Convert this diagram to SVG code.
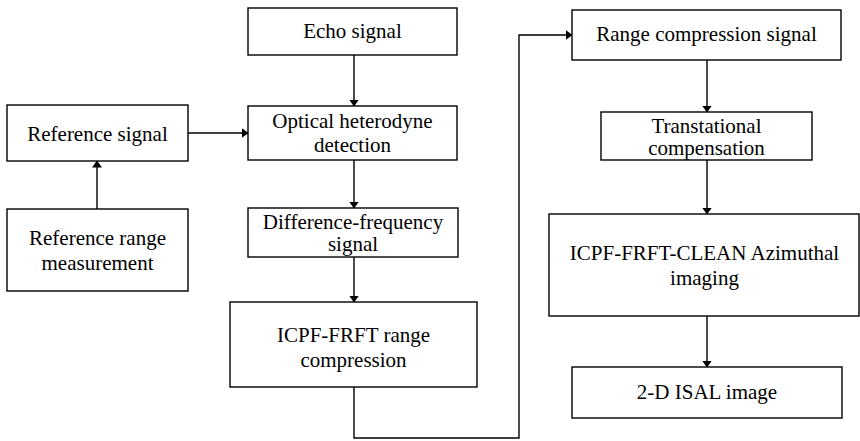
<svg xmlns="http://www.w3.org/2000/svg" width="860" height="441" viewBox="0 0 860 441">
<defs>
<style>
.box{fill:#fff;stroke:#000;stroke-width:1.4}
.t{font-family:"Liberation Serif","Times New Roman",serif;font-size:21px;fill:#000;text-anchor:middle}
.c{fill:none;stroke:#000;stroke-width:1.4}
</style>
<marker id="ah" markerUnits="userSpaceOnUse" markerWidth="7" markerHeight="10" refX="6.5" refY="5" orient="auto">
<path d="M0,0 L7,5 L0,10 z" fill="#000"/>
</marker>
</defs>
<rect width="860" height="441" fill="#fff"/>
<g id="connectors">
<line class="c" x1="354" y1="55" x2="354" y2="106" marker-end="url(#ah)"/>
<line class="c" x1="188" y1="133" x2="248" y2="133" marker-end="url(#ah)"/>
<line class="c" x1="97" y1="209" x2="97" y2="161" marker-end="url(#ah)"/>
<line class="c" x1="354" y1="160" x2="354" y2="208" marker-end="url(#ah)"/>
<line class="c" x1="354" y1="257" x2="354" y2="302" marker-end="url(#ah)"/>
<polyline class="c" points="354,387 354,438 519,438 519,35 572,35" marker-end="url(#ah)"/>
<line class="c" x1="707" y1="60" x2="707" y2="112" marker-end="url(#ah)"/>
<line class="c" x1="707" y1="160" x2="707" y2="214" marker-end="url(#ah)"/>
<line class="c" x1="707" y1="316" x2="707" y2="367" marker-end="url(#ah)"/>
</g>
<g id="echo">
<rect class="box" x="248" y="8" width="209" height="47"/>
<text class="t" x="352.5" y="38">Echo signal</text>
</g>
<g id="optical">
<rect class="box" x="248" y="106" width="209" height="54"/>
<text class="t" x="352.5" y="128">Optical heterodyne</text>
<text class="t" x="352.5" y="152">detection</text>
</g>
<g id="refsignal">
<rect class="box" x="7" y="105" width="181" height="56"/>
<text class="t" x="97.5" y="141">Reference signal</text>
</g>
<g id="refrange">
<rect class="box" x="7" y="209" width="181" height="82"/>
<text class="t" x="97.5" y="245">Reference range</text>
<text class="t" x="97.5" y="270">measurement</text>
</g>
<g id="diff">
<rect class="box" x="248" y="208" width="210" height="49"/>
<text class="t" x="353" y="229">Difference-frequency</text>
<text class="t" x="353" y="251">signal</text>
</g>
<g id="rangecomp">
<rect class="box" x="230" y="302" width="247" height="85"/>
<text class="t" x="353.5" y="342">ICPF-FRFT range</text>
<text class="t" x="353.5" y="367">compression</text>
</g>
<g id="rcsignal">
<rect class="box" x="572" y="10" width="269" height="50"/>
<text class="t" x="706.5" y="41">Range compression signal</text>
</g>
<g id="trans">
<rect class="box" x="601" y="112" width="211" height="48"/>
<text class="t" x="706.5" y="133">Transtational</text>
<text class="t" x="706.5" y="155">compensation</text>
</g>
<g id="clean">
<rect class="box" x="549" y="214" width="310" height="102"/>
<text class="t" x="704.5" y="260">ICPF-FRFT-CLEAN Azimuthal</text>
<text class="t" x="704.5" y="285">imaging</text>
</g>
<g id="isal">
<rect class="box" x="572" y="367" width="270" height="51"/>
<text class="t" x="707" y="399">2-D ISAL image</text>
</g>
</svg>
